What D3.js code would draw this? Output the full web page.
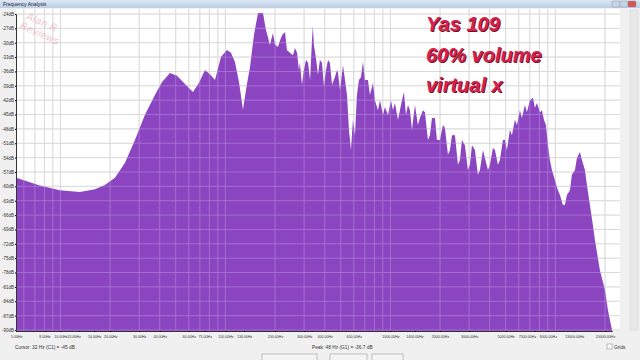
<!DOCTYPE html>
<html><head><meta charset="utf-8">
<script src="https://cdn.jsdelivr.net/npm/d3@7"></script>
<style>html,body{margin:0;padding:0;background:#f0f0f0;overflow:hidden}</style>
</head><body><svg id="c" width="640" height="360"></svg>
<script>
// Spectrum readings (Hz, dB)
const freqs = [5.4,7.5,9.9,13.1,16.2,18.6,21.4,24.6,28.3,32.5,37.4,41.3,46.1,50.9,56.9,63.6,69.1,75.2,80.6,86.5,94.0,102.2,108.1,114.3,120.9,127.8,135.1,140.9,149.0,157.6,169.0,
  176,181,186,194,200,208,217,223,230,236,246,257,264,272,279,283,291,299,308,317,326,335,339,344,354,364,374,385,396,407,419,430,443,461,475,481,495,516,531,546,561,577,593,610,627,645,663,682,701,731,752,784,806,841,865,902,927,967,1008,1037,1066,1112,1143,1176,1209,1243,1278,1314,1352,1409,1469,1511,1575,1620,1689,1737,1787,1863,1916,1997,2083,2142,2234,2297,2362,2463,2568,2641,2715,2831,2952,3036,3122,3255,3394,3490,3640,3743,3903,4013,4185,4303,4487,4614,4811,4948,5087,5305,5455,5689,5850,6100,6272,6540,6725,7013,7313,7520,7733,8064,8292,8527,8768,9016,9271,9534,9940,10366,10660,11116,11430,11755,12258,12604,13144,13515,14093,14493,15112,15538,16203,16893,17374,18113,18627,19425,19976,20830,21420,22050];
const levels = [-58.2,-59.8,-60.8,-61.2,-60.6,-59.7,-58.2,-55.1,-50.3,-45.1,-40.9,-38.2,-36.3,-36.9,-38.6,-40.3,-38.4,-35.7,-36.6,-37.8,-33.0,-31.5,-32.1,-34.0,-38.2,-44.0,-38.6,-35.1,-28.4,-23.8,-23.8,
  -27.3,-28.8,-30.5,-28.0,-30.3,-30.9,-29.0,-28.2,-27.8,-31.5,-32.1,-32.6,-31.1,-32.1,-35.7,-34.2,-38.8,-35.7,-33.6,-34.2,-37.8,-29.4,-26.5,-30.5,-33.2,-36.7,-33.6,-34.2,-39.2,-35.7,-33.6,-34.2,-38.8,-37.2,-35.7,-36.1,-39.9,-34.7,-37.8,-40.9,-48.2,-52.4,-46.1,-49.3,-40.9,-37.8,-37.2,-34.0,-37.8,-37.8,-40.9,-38.4,-42.0,-44.1,-42.0,-45.1,-43.4,-45.1,-42.0,-44.1,-42.6,-46.1,-44.1,-42.0,-40.3,-45.1,-43.0,-44.1,-48.2,-43.0,-47.2,-45.7,-44.1,-44.5,-50.3,-49.3,-45.7,-45.7,-50.3,-50.3,-47.2,-47.8,-53.4,-52.4,-49.3,-49.3,-55.5,-54.5,-50.3,-51.4,-56.6,-55.5,-51.4,-52.4,-57.6,-56.6,-52.4,-54.1,-56.6,-55.5,-52.0,-52.4,-55.5,-54.5,-50.3,-50.3,-52.4,-48.2,-49.3,-46.1,-47.2,-44.1,-45.7,-43.0,-44.5,-42.0,-41.5,-43.6,-42.6,-44.5,-44.1,-46.1,-47.2,-51.4,-54.5,-56.6,-58.7,-60.8,-61.8,-63.9,-63.9,-61.8,-60.8,-57.6,-56.6,-54.1,-52.8,-54.5,-56.6,-59.7,-63.9,-68.1,-71.2,-75.0,-77.5,-80.0,-81.6,-85.8,-87.9,-90.0];
const dbTicks = d3.range(-24, -91, -3);
const freqTicks = [5.4,8,10,13,16,20,30,40,60,75,100,130,200,300,400,600,1000,1400,2000,3000,5000,7500,9000,13000,20000];
const freqTickLabels = ["5.00Hz","8.00Hz","10.00Hz","13.00Hz","16.00Hz","20.00Hz","30.00Hz","40.00Hz","60.00Hz","75.00Hz","100.00Hz","130.00Hz","200.00Hz","300.00Hz","400.00Hz","600.00Hz","1000.00Hz","1400.00Hz","2000.00Hz","3000.00Hz","5000.00Hz","7500.00Hz","9000.00Hz","13000.00Hz","20000.00Hz"];
const overlayLines = ["Yas 109","60% volume","virtual x"];

const svg = d3.select("#c");
const L=16, R=612, T=9, B=331;
const x = d3.scaleLog().domain([5.38, 22050]).range([L, R]);
const y = d3.scaleLinear().domain([-24, -90]).range([14, 330]);
const small = "Liberation Sans";

// title bar
const tg = svg.append("defs").append("linearGradient").attr("id","tb").attr("x1",0).attr("x2",0).attr("y1",0).attr("y2",1);
tg.append("stop").attr("offset",0).attr("stop-color","#dce7f3");
tg.append("stop").attr("offset",1).attr("stop-color","#b9cde4");
svg.append("rect").attr("x",0).attr("y",0).attr("width",640).attr("height",8).attr("fill","url(#tb)");
svg.append("text").attr("x",3).attr("y",6).attr("font-family",small).attr("font-size",5).attr("fill","#223").text("Frequency Analysis");
[["#c6d3e3",612],["#c6d3e3",620],["#d9534f",628]].forEach(([c,xx])=>{
  svg.append("rect").attr("x",xx).attr("y",1).attr("width",8).attr("height",6).attr("rx",1).attr("fill",c).attr("stroke","#8a9bb0").attr("stroke-width",0.5);
});

// plot area
svg.append("rect").attr("x",L).attr("y",T).attr("width",R-L+8).attr("height",B-T).attr("fill","#ffffff");

// grid (behind)
const minorF = [];
[1,10,100,1000,10000].forEach(d=>{for(let k=1;k<10;k++){const f=k*d; if(f>=5.38 && f<=22050) minorF.push(f);}});
const gridG = svg.append("g");
gridG.selectAll("line.v").data(minorF).join("line").attr("x1",d=>x(d)).attr("x2",d=>x(d)).attr("y1",T).attr("y2",B).attr("stroke","#cfcfcf").attr("stroke-width",1);
gridG.selectAll("line.h").data(dbTicks).join("line").attr("x1",L).attr("x2",R+8).attr("y1",d=>y(d)).attr("y2",d=>y(d)).attr("stroke","#cfcfcf").attr("stroke-width",1);

// spectrum
const data = freqs.map((f,i)=>({f, v: levels[i]}));
const area = d3.area().x(d=>x(d.f)).y0(B).y1(d=>y(d.v));
svg.append("path").datum(data).attr("d",area).attr("fill","#8b45c1");

// grid over fill
const gridO = svg.append("g").attr("opacity",0.22);
gridO.selectAll("line.v").data(minorF).join("line").attr("x1",d=>x(d)).attr("x2",d=>x(d)).attr("y1",T).attr("y2",B).attr("stroke","#fff");
gridO.selectAll("line.h").data(dbTicks).join("line").attr("x1",L).attr("x2",R+8).attr("y1",d=>y(d)).attr("y2",d=>y(d)).attr("stroke","#fff");

// axes
const yAxis = d3.axisLeft(y).tickValues(dbTicks).tickSize(1).tickPadding(1).tickFormat(d=>d+"dB");
const ya = svg.append("g").attr("transform",`translate(${L},0)`).call(yAxis);
ya.select(".domain").attr("stroke","#333");
ya.selectAll("text").attr("font-family",small).attr("font-size",4.5).attr("fill","#333");
const xAxis = d3.axisBottom(x).tickValues(freqTicks).tickSize(1).tickPadding(3).tickFormat((d,i)=>freqTickLabels[i]);
const xa = svg.append("g").attr("transform",`translate(0,${B})`).call(xAxis);
xa.select(".domain").attr("stroke","#333");
const tpos = freqTicks.map(f=>x(f));
const xt = xa.selectAll("text").attr("font-family",small).attr("font-size",3.6).attr("fill","#333");
const widths = xt.nodes().map(n=>n.getComputedTextLength());
xt.each(function(d,i){
  if (i < tpos.length-1 && (widths[i]+widths[i+1])/2 > tpos[i+1]-tpos[i]-1.5) {
    d3.select(this).attr("text-anchor","end").attr("dx",1);
  }
});

// right strip
svg.append("rect").attr("x",R+8).attr("y",T).attr("width",640-R-8).attr("height",B-T).attr("fill","#f0f0f0");
svg.append("rect").attr("x",630).attr("y",10).attr("width",8).attr("height",320).attr("fill","#e8e8e8").attr("stroke","#cfcfcf").attr("stroke-width",0.5);

// status texts
svg.append("text").attr("x",15).attr("y",349).attr("font-family",small).attr("font-size",4.8).attr("fill","#333").text("Cursor: 32 Hz (C1) = -45 dB");
svg.append("text").attr("x",312).attr("y",349).attr("font-family",small).attr("font-size",4.8).attr("fill","#333").text("Peak: 48 Hz (G1) = -36.7 dB");
svg.append("rect").attr("x",607).attr("y",344).attr("width",5).attr("height",5).attr("fill","#fff").attr("stroke","#777").attr("stroke-width",0.5);
svg.append("text").attr("x",614).attr("y",348.5).attr("font-family",small).attr("font-size",4.8).attr("fill","#333").text("Grids");
[[262,55],[330,37],[372,31]].forEach(([bx,bw])=>{
  svg.append("rect").attr("x",bx).attr("y",354).attr("width",bw).attr("height",10).attr("fill","#f4f4f4").attr("stroke","#aaa").attr("stroke-width",0.7);
});

// watermark
const wm = svg.append("g").attr("transform","translate(24,18) rotate(24)").attr("opacity",0.4).attr("font-family","DejaVu Sans").attr("font-style","italic").attr("font-size",10).attr("fill","#e07890");
wm.append("text").attr("x",2).attr("y",0).text("Alan R");
wm.append("text").attr("x",0).attr("y",11).text("Reviews");

// overlay text
const ov = svg.append("g").attr("font-family","Liberation Sans").attr("font-weight","bold").attr("font-style","italic").attr("font-size",20);
overlayLines.forEach((t,i)=>{
  ov.append("text").attr("x",427).attr("y",32+i*30.5).attr("fill","#6e0f24").text(t);
  ov.append("text").attr("x",426).attr("y",31+i*30.5).attr("fill","#d8204c").text(t);
});
</script></body></html>
